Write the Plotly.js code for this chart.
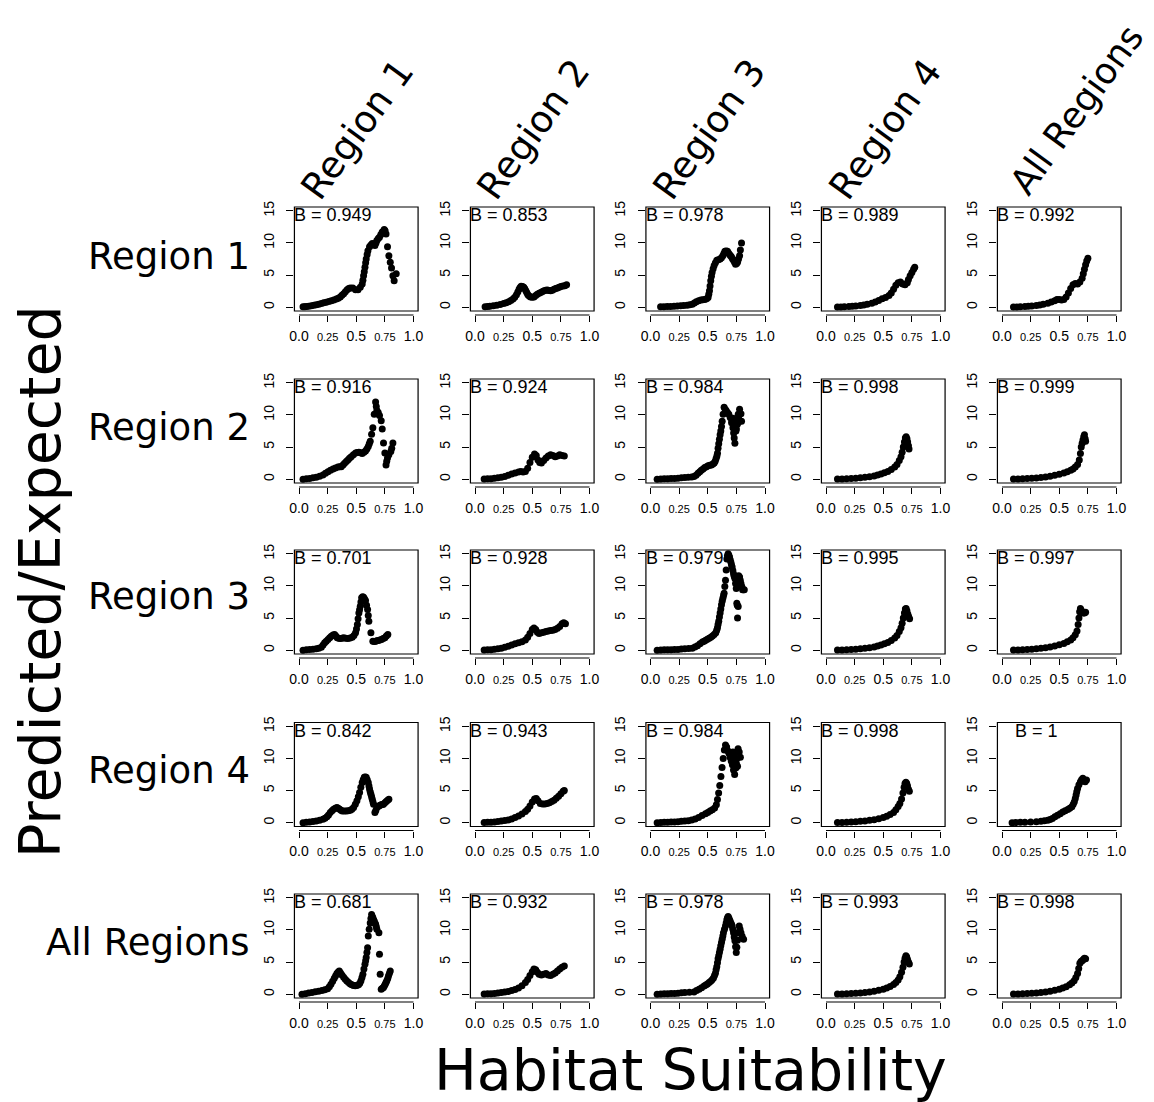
<!DOCTYPE html>
<html><head><meta charset="utf-8">
<script src="https://cdn.plot.ly/plotly-3.0.1.min.js"></script>
<style>html,body{margin:0;padding:0;background:#fff}</style>
</head><body><div id="chart" style="width:1154px;height:1102px"></div>
<script>
// ---------- labels ----------
const rowNames = ['Region 1','Region 2','Region 3','Region 4','All Regions'];
const colNames = ['Region 1','Region 2','Region 3','Region 4','All Regions'];
const bValues = [
  [0.949,0.853,0.978,0.989,0.992],
  [0.916,0.924,0.984,0.998,0.999],
  [0.701,0.928,0.979,0.995,0.997],
  [0.842,0.943,0.984,0.998,1],
  [0.681,0.932,0.978,0.993,0.998]
];
const xTickVals = [0,0.25,0.5,0.75,1];
const xTickText = ['0.0','0.25','0.5','0.75','1.0'];
const yTickVals = [0,5,10,15];
const yTickText = ['0','5','10','15'];
const xTitle = 'Habitat Suitability';
const yTitle = 'Predicted/Expected';

// ---------- data: [habitat suitability, predicted/expected] ----------
const r1c1 = [[0.035,0.05],[0.05,0.07],[0.064,0.1],[0.085,0.15],[0.108,0.2],[0.13,0.28],[0.151,0.37],[0.173,0.47],[0.195,0.57],[0.216,0.68],[0.238,0.78],[0.26,0.89],[0.282,1.0],[0.304,1.12],[0.326,1.25],[0.343,1.4],[0.36,1.6],[0.375,1.85],[0.39,2.1],[0.405,2.4],[0.42,2.7],[0.434,2.9],[0.448,3.0],[0.47,3.0],[0.494,2.7],[0.515,2.7],[0.535,3.1],[0.552,3.6],[0.558,4.2],[0.564,4.9],[0.57,5.5],[0.576,6.2],[0.582,6.9],[0.587,7.5],[0.595,8.2],[0.602,8.8],[0.616,9.4],[0.628,9.7],[0.64,9.9],[0.652,9.8],[0.663,9.6],[0.672,10.0],[0.68,10.4],[0.692,10.7],[0.703,10.9],[0.715,11.3],[0.727,11.7],[0.744,12.1],[0.752,11.9],[0.76,11.4],[0.773,9.4],[0.785,8.0],[0.797,7.0],[0.808,6.1],[0.82,4.9],[0.831,4.1],[0.849,5.2]];
const r1c2 = [[0.088,0.05],[0.11,0.1],[0.13,0.15],[0.16,0.22],[0.19,0.3],[0.22,0.43],[0.25,0.57],[0.272,0.7],[0.294,0.84],[0.313,1.02],[0.332,1.25],[0.347,1.55],[0.362,1.93],[0.374,2.35],[0.385,2.8],[0.394,3.05],[0.403,3.24],[0.415,3.2],[0.426,3.1],[0.435,2.85],[0.444,2.56],[0.453,2.25],[0.462,1.93],[0.473,1.75],[0.485,1.6],[0.5,1.55],[0.515,1.6],[0.53,1.8],[0.544,2.0],[0.56,2.15],[0.574,2.3],[0.59,2.45],[0.603,2.56],[0.618,2.65],[0.632,2.67],[0.646,2.6],[0.66,2.56],[0.675,2.65],[0.69,2.77],[0.705,2.9],[0.72,3.0],[0.735,3.1],[0.75,3.2],[0.768,3.3],[0.785,3.35],[0.80,3.5]];
const r1c3 = [[0.088,0.05],[0.117,0.07],[0.146,0.1],[0.175,0.12],[0.205,0.15],[0.234,0.17],[0.263,0.2],[0.29,0.25],[0.32,0.3],[0.343,0.38],[0.365,0.47],[0.383,0.65],[0.40,0.84],[0.42,0.98],[0.44,1.1],[0.457,1.15],[0.474,1.2],[0.49,1.3],[0.503,1.5],[0.509,2.0],[0.515,2.56],[0.52,3.3],[0.526,4.1],[0.532,4.8],[0.538,5.4],[0.547,6.0],[0.556,6.5],[0.567,6.9],[0.579,7.3],[0.593,7.4],[0.608,7.5],[0.62,7.7],[0.632,8.0],[0.641,8.35],[0.65,8.7],[0.661,8.75],[0.672,8.7],[0.681,8.45],[0.69,8.2],[0.699,8.0],[0.708,7.8],[0.716,7.55],[0.725,7.3],[0.734,7.0],[0.743,6.7],[0.752,6.8],[0.76,7.0],[0.769,7.5],[0.778,8.0],[0.785,8.9],[0.795,10.0]];
const r1c4 = [[0.1,0.02],[0.13,0.04],[0.16,0.06],[0.2,0.1],[0.23,0.13],[0.26,0.17],[0.3,0.25],[0.33,0.33],[0.36,0.45],[0.4,0.6],[0.43,0.8],[0.46,1.05],[0.49,1.3],[0.52,1.5],[0.55,1.8],[0.57,2.2],[0.59,2.8],[0.61,3.4],[0.63,3.8],[0.65,3.9],[0.67,3.6],[0.69,3.5],[0.71,3.8],[0.72,4.3],[0.735,4.9],[0.75,5.4],[0.765,5.9],[0.775,6.2]];
const r1c5 = [[0.1,0.02],[0.13,0.04],[0.16,0.06],[0.2,0.1],[0.23,0.13],[0.26,0.17],[0.3,0.25],[0.33,0.35],[0.36,0.45],[0.4,0.6],[0.43,0.8],[0.46,1.0],[0.48,1.2],[0.5,1.2],[0.52,1.1],[0.54,1.2],[0.56,1.6],[0.58,2.2],[0.6,2.9],[0.62,3.5],[0.64,3.7],[0.66,3.6],[0.68,3.9],[0.7,4.5],[0.71,5.2],[0.72,5.9],[0.73,6.6],[0.74,7.2],[0.75,7.6]];

const r2c1 = [[0.035,0],[0.064,0.05],[0.093,0.1],[0.122,0.2],[0.151,0.3],[0.18,0.45],[0.209,0.63],[0.231,0.9],[0.253,1.16],[0.275,1.38],[0.297,1.58],[0.318,1.75],[0.34,1.9],[0.355,1.92],[0.369,1.95],[0.384,2.2],[0.398,2.48],[0.413,2.75],[0.427,3.0],[0.441,3.25],[0.456,3.5],[0.475,3.8],[0.494,4.07],[0.508,4.15],[0.523,4.2],[0.538,4.1],[0.552,4.0],[0.567,4.2],[0.581,4.4],[0.593,4.7],[0.605,5.1],[0.614,5.5],[0.622,5.9],[0.634,7.0],[0.645,8.0],[0.657,10.1],[0.669,12.0],[0.675,11.3],[0.68,10.7],[0.692,10.4],[0.703,9.9],[0.718,9.1],[0.727,7.8],[0.738,5.65],[0.75,4.07],[0.76,2.2],[0.766,2.8],[0.773,3.3],[0.785,3.8],[0.802,4.3],[0.81,4.8],[0.82,5.65]];
const r2c2 = [[0.08,0.02],[0.11,0.05],[0.14,0.08],[0.17,0.13],[0.2,0.2],[0.23,0.3],[0.26,0.42],[0.29,0.6],[0.32,0.8],[0.35,0.95],[0.38,1.1],[0.4,1.2],[0.42,1.1],[0.44,1.2],[0.46,1.7],[0.48,2.6],[0.5,3.4],[0.52,3.9],[0.535,3.7],[0.55,3.0],[0.565,2.6],[0.58,2.5],[0.6,2.9],[0.62,3.3],[0.64,3.6],[0.66,3.8],[0.68,3.7],[0.7,3.5],[0.72,3.6],[0.74,3.8],[0.76,3.7],[0.78,3.6]];
const r2c3 = [[0.058,0],[0.09,0.02],[0.12,0.05],[0.15,0.07],[0.18,0.1],[0.21,0.12],[0.24,0.15],[0.27,0.2],[0.3,0.25],[0.33,0.3],[0.36,0.35],[0.38,0.4],[0.398,0.6],[0.415,0.9],[0.43,1.15],[0.444,1.4],[0.459,1.6],[0.474,1.8],[0.489,1.95],[0.503,2.1],[0.518,2.15],[0.532,2.2],[0.545,2.35],[0.556,2.5],[0.565,2.8],[0.573,3.2],[0.58,3.6],[0.585,4.05],[0.59,4.8],[0.596,5.5],[0.602,6.2],[0.608,6.9],[0.614,7.5],[0.62,8.2],[0.626,9.0],[0.634,10.1],[0.643,11.2],[0.652,10.9],[0.66,10.7],[0.672,10.4],[0.684,10.1],[0.696,9.6],[0.708,8.8],[0.72,8.0],[0.726,7.2],[0.731,6.4],[0.737,5.6],[0.746,7.5],[0.754,9.05],[0.766,10.1],[0.778,10.9],[0.784,9.05],[0.71,9.2],[0.72,9.5],[0.73,8.6],[0.74,8.4],[0.75,7.8],[0.76,8.6],[0.77,9.4],[0.79,10.2],[0.795,9.0]];
const r2c4 = [[0.1,0.02],[0.14,0.04],[0.18,0.06],[0.22,0.1],[0.26,0.15],[0.3,0.2],[0.34,0.28],[0.38,0.38],[0.42,0.5],[0.45,0.65],[0.48,0.8],[0.51,1.0],[0.54,1.2],[0.57,1.5],[0.6,1.9],[0.62,2.3],[0.64,2.9],[0.655,3.5],[0.665,4.2],[0.675,5.0],[0.685,5.8],[0.693,6.4],[0.7,6.6],[0.707,6.3],[0.713,5.8],[0.72,5.2],[0.725,4.7]];
const r2c5 = [[0.1,0.02],[0.14,0.04],[0.18,0.06],[0.22,0.09],[0.26,0.13],[0.3,0.18],[0.34,0.25],[0.38,0.33],[0.42,0.45],[0.46,0.6],[0.5,0.75],[0.54,0.95],[0.57,1.15],[0.6,1.4],[0.62,1.6],[0.64,1.9],[0.66,2.3],[0.675,3.0],[0.685,4.0],[0.692,5.0],[0.7,5.6],[0.707,6.1],[0.714,6.6],[0.72,6.9],[0.726,6.3],[0.73,5.9]];

const r3c1 = [[0.035,0],[0.064,0.05],[0.093,0.1],[0.122,0.15],[0.151,0.2],[0.173,0.3],[0.195,0.47],[0.21,0.8],[0.224,1.14],[0.238,1.4],[0.253,1.66],[0.268,1.92],[0.282,2.18],[0.297,2.35],[0.311,2.44],[0.322,2.2],[0.334,1.92],[0.347,1.85],[0.36,1.82],[0.375,1.85],[0.39,1.92],[0.408,1.87],[0.427,1.82],[0.446,1.9],[0.465,2.02],[0.48,2.3],[0.494,2.7],[0.502,3.3],[0.51,4.0],[0.516,4.9],[0.523,5.8],[0.529,6.3],[0.535,6.85],[0.541,7.5],[0.547,8.15],[0.556,8.3],[0.564,8.25],[0.572,8.0],[0.581,7.73],[0.59,7.0],[0.599,6.33],[0.605,5.4],[0.61,4.5],[0.628,2.7],[0.645,1.4],[0.657,1.35],[0.669,1.4],[0.68,1.45],[0.692,1.5],[0.706,1.58],[0.72,1.66],[0.735,1.8],[0.75,1.92],[0.763,2.2],[0.776,2.44]];
const r3c2 = [[0.08,0.02],[0.11,0.05],[0.14,0.08],[0.17,0.13],[0.2,0.2],[0.23,0.3],[0.26,0.45],[0.29,0.62],[0.32,0.8],[0.35,1.0],[0.38,1.15],[0.41,1.3],[0.44,1.6],[0.46,2.0],[0.48,2.6],[0.5,3.2],[0.515,3.45],[0.53,3.2],[0.545,2.8],[0.56,2.6],[0.58,2.7],[0.6,2.8],[0.62,2.9],[0.64,3.0],[0.66,3.05],[0.68,3.1],[0.7,3.2],[0.72,3.4],[0.74,3.7],[0.76,4.1],[0.775,4.25],[0.79,4.1]];
const r3c3 = [[0.058,0],[0.09,0.02],[0.12,0.05],[0.15,0.06],[0.18,0.08],[0.21,0.1],[0.24,0.12],[0.27,0.16],[0.3,0.2],[0.333,0.25],[0.365,0.3],[0.388,0.5],[0.41,0.7],[0.432,1.0],[0.453,1.28],[0.468,1.4],[0.482,1.54],[0.497,1.7],[0.512,1.84],[0.527,2.0],[0.541,2.2],[0.556,2.45],[0.57,2.7],[0.578,3.1],[0.585,3.5],[0.59,4.0],[0.596,4.5],[0.602,5.15],[0.608,5.8],[0.614,6.4],[0.62,7.07],[0.626,7.6],[0.632,8.1],[0.638,8.5],[0.643,8.86],[0.649,9.9],[0.655,10.9],[0.661,12.5],[0.667,14.2],[0.672,14.7],[0.678,15.0],[0.684,14.8],[0.69,14.5],[0.696,14.1],[0.702,13.7],[0.707,13.3],[0.713,12.95],[0.719,12.4],[0.725,11.9],[0.731,11.5],[0.737,11.16],[0.743,10.4],[0.749,9.6],[0.754,7.3],[0.76,5.0],[0.766,6.8],[0.772,10.0],[0.778,11.4],[0.784,10.9],[0.79,10.4],[0.797,9.9],[0.804,9.4],[0.812,9.4],[0.819,9.4],[0.77,11.6],[0.758,7.0]];
const r3c4 = [[0.1,0.02],[0.14,0.04],[0.18,0.06],[0.22,0.1],[0.26,0.15],[0.3,0.2],[0.34,0.28],[0.38,0.38],[0.42,0.5],[0.45,0.65],[0.48,0.8],[0.51,1.0],[0.54,1.2],[0.57,1.5],[0.6,1.9],[0.62,2.3],[0.64,2.9],[0.655,3.5],[0.665,4.2],[0.675,5.0],[0.685,5.8],[0.693,6.4],[0.7,6.5],[0.707,6.1],[0.715,5.6],[0.722,5.2],[0.73,4.9]];
const r3c5 = [[0.1,0.02],[0.14,0.04],[0.18,0.06],[0.22,0.1],[0.26,0.14],[0.3,0.2],[0.34,0.28],[0.38,0.38],[0.42,0.5],[0.46,0.65],[0.5,0.85],[0.54,1.05],[0.57,1.3],[0.6,1.6],[0.62,1.95],[0.64,2.4],[0.655,3.0],[0.665,4.0],[0.672,5.0],[0.678,6.0],[0.685,6.5],[0.692,6.2],[0.7,6.0],[0.71,5.8],[0.72,5.8],[0.73,5.9]];

const r4c1 = [[0.035,0],[0.064,0.05],[0.093,0.1],[0.122,0.18],[0.151,0.26],[0.18,0.38],[0.209,0.52],[0.227,0.7],[0.244,0.9],[0.258,1.2],[0.273,1.57],[0.288,1.85],[0.302,2.1],[0.317,2.25],[0.331,2.35],[0.343,2.25],[0.355,2.1],[0.367,1.95],[0.378,1.83],[0.396,1.83],[0.413,1.83],[0.43,1.87],[0.448,1.93],[0.462,2.1],[0.477,2.35],[0.492,2.85],[0.506,3.4],[0.518,4.05],[0.529,4.7],[0.54,5.5],[0.552,6.27],[0.561,6.7],[0.57,7.06],[0.578,7.1],[0.587,7.06],[0.596,6.7],[0.605,6.27],[0.611,5.7],[0.616,5.23],[0.622,4.8],[0.628,4.44],[0.634,4.05],[0.64,3.66],[0.646,3.2],[0.651,2.87],[0.663,1.57],[0.671,1.9],[0.68,2.35],[0.689,2.5],[0.698,2.6],[0.708,2.7],[0.718,2.77],[0.728,2.82],[0.738,2.87],[0.75,3.1],[0.762,3.3],[0.774,3.5],[0.785,3.66]];
const r4c2 = [[0.08,0.02],[0.11,0.05],[0.14,0.08],[0.17,0.12],[0.2,0.18],[0.23,0.25],[0.26,0.33],[0.29,0.43],[0.32,0.58],[0.35,0.8],[0.38,1.05],[0.41,1.35],[0.44,1.75],[0.46,2.1],[0.48,2.6],[0.5,3.2],[0.52,3.7],[0.535,3.75],[0.55,3.4],[0.57,3.0],[0.59,2.9],[0.61,2.9],[0.63,3.0],[0.65,3.1],[0.67,3.3],[0.69,3.5],[0.71,3.8],[0.73,4.1],[0.75,4.5],[0.77,4.9],[0.78,5.0]];
const r4c3 = [[0.058,0],[0.09,0.02],[0.12,0.05],[0.15,0.07],[0.18,0.1],[0.21,0.12],[0.24,0.15],[0.27,0.2],[0.3,0.25],[0.33,0.3],[0.36,0.4],[0.39,0.55],[0.42,0.8],[0.45,1.1],[0.48,1.4],[0.5,1.6],[0.52,1.8],[0.54,2.0],[0.56,2.3],[0.575,2.8],[0.585,3.6],[0.595,4.6],[0.605,5.8],[0.615,7.2],[0.625,8.6],[0.635,10.0],[0.645,11.3],[0.655,12.1],[0.665,11.8],[0.675,11.2],[0.685,10.8],[0.695,10.2],[0.705,9.6],[0.715,9.0],[0.725,8.2],[0.735,7.5],[0.745,8.5],[0.755,10.0],[0.765,11.5],[0.775,11.0],[0.785,10.2],[0.72,11.0],[0.73,10.5],[0.74,9.6],[0.75,9.2],[0.76,8.8]];
const r4c4 = [[0.1,0.02],[0.14,0.04],[0.18,0.06],[0.22,0.1],[0.26,0.14],[0.3,0.2],[0.34,0.27],[0.38,0.36],[0.42,0.47],[0.46,0.62],[0.5,0.8],[0.53,1.0],[0.56,1.25],[0.59,1.6],[0.61,2.0],[0.63,2.5],[0.645,3.0],[0.66,3.7],[0.672,4.6],[0.682,5.5],[0.69,6.1],[0.698,6.3],[0.705,6.1],[0.712,5.7],[0.72,5.2],[0.728,4.9]];
const r4c5 = [[0.088,0],[0.12,0.02],[0.16,0.05],[0.2,0.07],[0.25,0.1],[0.3,0.15],[0.34,0.2],[0.37,0.28],[0.4,0.37],[0.42,0.5],[0.44,0.63],[0.462,0.9],[0.485,1.15],[0.508,1.4],[0.53,1.67],[0.552,1.85],[0.574,2.04],[0.592,2.25],[0.61,2.46],[0.622,2.85],[0.632,3.24],[0.64,3.75],[0.647,4.29],[0.653,4.8],[0.66,5.33],[0.672,5.9],[0.685,6.38],[0.695,6.7],[0.706,6.9],[0.716,6.6],[0.726,6.38],[0.738,6.64]];

const r5c1 = [[0.026,0],[0.055,0.08],[0.084,0.16],[0.113,0.26],[0.142,0.36],[0.171,0.46],[0.2,0.57],[0.225,0.7],[0.25,0.83],[0.265,1.15],[0.279,1.55],[0.294,2.0],[0.308,2.48],[0.32,2.85],[0.331,3.2],[0.342,3.45],[0.352,3.62],[0.363,3.3],[0.375,3.0],[0.39,2.65],[0.404,2.33],[0.418,2.05],[0.433,1.81],[0.448,1.6],[0.462,1.45],[0.476,1.35],[0.491,1.3],[0.505,1.35],[0.52,1.45],[0.531,1.7],[0.541,2.07],[0.55,2.6],[0.558,3.1],[0.567,3.9],[0.576,4.66],[0.582,5.2],[0.587,5.7],[0.593,6.5],[0.599,7.24],[0.605,9.05],[0.613,10.1],[0.622,11.1],[0.628,11.8],[0.634,12.4],[0.64,12.1],[0.645,11.9],[0.651,11.6],[0.657,11.4],[0.663,11.1],[0.669,10.9],[0.675,10.5],[0.68,10.1],[0.698,9.57],[0.703,6.2],[0.709,3.1],[0.718,0.78],[0.728,0.9],[0.738,1.03],[0.746,1.3],[0.753,1.55],[0.76,1.8],[0.767,2.07],[0.775,2.45],[0.782,2.85],[0.79,3.25],[0.797,3.62]];
const r5c2 = [[0.08,0.02],[0.11,0.05],[0.14,0.08],[0.17,0.12],[0.2,0.17],[0.23,0.24],[0.26,0.32],[0.29,0.42],[0.32,0.55],[0.35,0.72],[0.38,0.95],[0.41,1.3],[0.44,1.8],[0.46,2.3],[0.48,2.9],[0.5,3.5],[0.515,3.9],[0.53,3.8],[0.545,3.4],[0.56,3.1],[0.58,3.0],[0.6,3.1],[0.62,3.2],[0.64,3.0],[0.66,2.9],[0.68,3.1],[0.7,3.3],[0.72,3.6],[0.74,3.9],[0.76,4.2],[0.78,4.4]];
const r5c3 = [[0.058,0],[0.09,0.02],[0.12,0.05],[0.15,0.07],[0.18,0.1],[0.21,0.12],[0.24,0.15],[0.27,0.2],[0.3,0.25],[0.34,0.3],[0.38,0.35],[0.402,0.55],[0.424,0.75],[0.446,1.0],[0.468,1.26],[0.483,1.43],[0.497,1.6],[0.512,1.8],[0.526,2.0],[0.538,2.25],[0.55,2.5],[0.559,2.9],[0.567,3.27],[0.573,3.8],[0.579,4.28],[0.585,4.9],[0.59,5.5],[0.596,6.0],[0.602,6.5],[0.608,7.0],[0.614,7.55],[0.62,8.05],[0.626,8.55],[0.632,9.05],[0.637,9.56],[0.646,10.1],[0.655,10.6],[0.661,11.1],[0.667,11.6],[0.672,11.85],[0.678,12.1],[0.684,11.85],[0.69,11.6],[0.696,11.35],[0.702,11.1],[0.708,10.85],[0.713,10.6],[0.719,10.1],[0.725,9.56],[0.731,8.9],[0.737,8.3],[0.743,7.4],[0.749,6.5],[0.754,7.3],[0.76,8.4],[0.766,9.56],[0.775,10.6],[0.782,10.1],[0.79,9.56],[0.8,9.0],[0.813,8.55]];
const r5c4 = [[0.1,0.02],[0.14,0.04],[0.18,0.06],[0.22,0.09],[0.26,0.13],[0.3,0.18],[0.34,0.25],[0.38,0.34],[0.42,0.45],[0.46,0.6],[0.5,0.78],[0.53,0.95],[0.56,1.2],[0.59,1.5],[0.61,1.8],[0.63,2.2],[0.645,2.7],[0.66,3.4],[0.672,4.2],[0.682,5.0],[0.69,5.6],[0.698,6.0],[0.705,5.8],[0.712,5.4],[0.72,5.0],[0.728,4.7]];
const r5c5 = [[0.1,0.02],[0.14,0.04],[0.18,0.06],[0.22,0.09],[0.26,0.13],[0.3,0.18],[0.34,0.25],[0.38,0.34],[0.42,0.45],[0.46,0.6],[0.5,0.78],[0.53,0.95],[0.56,1.15],[0.59,1.45],[0.61,1.75],[0.63,2.1],[0.645,2.6],[0.66,3.2],[0.67,4.0],[0.68,4.8],[0.69,5.1],[0.7,5.2],[0.71,5.4],[0.72,5.6],[0.73,5.5]];

const panels = [
  [r1c1,r1c2,r1c3,r1c4,r1c5],
  [r2c1,r2c2,r2c3,r2c4,r2c5],
  [r3c1,r3c2,r3c3,r3c4,r3c5],
  [r4c1,r4c2,r4c3,r4c4,r4c5],
  [r5c1,r5c2,r5c3,r5c4,r5c5]
];

// ---------- layout geometry (pixels) ----------
const W = 1154, H = 1102;
const colX0 = [299, 475, 650.5, 826, 1002];   // pixel of x = 0
const rowTop = [207, 379, 550, 722.5, 894];   // top of each panel box
const PXU = 114.5;                             // pixels per x unit
const BOXH = 104;
const AXGAP = 4;
const XR = [-0.04, 1.04], YR = [-0.6, 15.6];

const tickFont = 'Liberation Sans, Arial, Helvetica, sans-serif';
const bigFont = 'DejaVu Sans, Verdana, sans-serif';

const xText = xTickText.map((t,i)=> i%2===1 ? '<span style="font-size:11px">'+t+'</span>' : t);

const data = [];
const layout = {
  width: W, height: H, margin: {l:0,r:0,t:0,b:0},
  paper_bgcolor: 'white', plot_bgcolor: 'white', showlegend: false,
  shapes: [], annotations: []
};

for (let r=0;r<5;r++){
  for (let c=0;c<5;c++){
    const n = r*5+c+1;
    const sfx = n===1 ? '' : String(n);
    const xr = 'x'+sfx, yr = 'y'+sfx;
    const left = colX0[c] + XR[0]*PXU, right = colX0[c] + XR[1]*PXU;
    const top = rowTop[r], bottom = top + BOXH;
    const axPos = 1 - (bottom + AXGAP)/H;
    const pts = panels[r][c];
    data.push({
      type:'scatter', mode:'markers', xaxis:xr, yaxis:yr,
      x: pts.map(p=>p[0]), y: pts.map(p=>p[1]),
      marker:{color:'black', size:7}, hoverinfo:'skip'
    });
    layout['xaxis'+sfx] = {
      domain:[left/W, right/W], range:XR, anchor:'free', position:axPos,
      tickmode:'array', tickvals:xTickVals, ticktext:xText,
      ticks:'outside', ticklen:6, tickwidth:1, tickcolor:'black',
      ticklabelstandoff:2,
      showline:false, showgrid:false, zeroline:false, fixedrange:true,
      tickfont:{family:tickFont, size:14, color:'black'}
    };
    layout['yaxis'+sfx] = {
      domain:[1-bottom/H, 1-top/H], range:YR, anchor:xr,
      tickmode:'array', tickvals:yTickVals, ticktext:yTickText,
      ticks:'outside', ticklen:7, tickwidth:1, tickcolor:'black', tickangle:-90,
      ticklabelstandoff:7,
      showline:false, showgrid:false, zeroline:false, fixedrange:true,
      tickfont:{family:tickFont, size:14, color:'black'}
    };
    layout.shapes.push({type:'rect', xref:xr+' domain', yref:yr+' domain', x0:0,x1:1,y0:0,y1:1,
      line:{color:'black', width:1.2}, layer:'above'});
    layout.shapes.push({type:'line', xref:xr, yref:'paper', x0:xTickVals[0], x1:xTickVals[xTickVals.length-1],
      y0:axPos, y1:axPos, line:{color:'black', width:1.2}});
    layout.annotations.push({xref:xr, yref:yr, x:0.3, y:14.35, xanchor:'center', yanchor:'middle',
      text:'B = '+bValues[r][c], showarrow:false,
      font:{family:tickFont, size:18, color:'black'}});
  }
}

// row labels
const rowCenters = [256, 427, 596, 770, 942];
rowNames.forEach((t,r)=>{
  layout.annotations.push({xref:'paper', yref:'paper', x:252/W, y:1-rowCenters[r]/H,
    xanchor:'right', yanchor:'middle', text:t, showarrow:false,
    font:{family:bigFont, size:37, color:'black'}});
});
// column labels (rotated)
const colCenters = [[357,129],[533,129],[709,129],[885,129],[1077,110]];
colNames.forEach((t,c)=>{
  layout.annotations.push({xref:'paper', yref:'paper', x:colCenters[c][0]/W, y:1-colCenters[c][1]/H,
    xanchor:'center', yanchor:'middle', text:t, showarrow:false, textangle:-54,
    font:{family:bigFont, size:c===4 ? 36 : 37, color:'black'}});
});
// axis titles
layout.annotations.push({xref:'paper', yref:'paper', x:40/W, y:1-582/H, xanchor:'center', yanchor:'middle',
  text:yTitle, textangle:-90, showarrow:false, font:{family:bigFont, size:57, color:'black'}});
layout.annotations.push({xref:'paper', yref:'paper', x:690/W, y:1-1070/H, xanchor:'center', yanchor:'middle',
  text:xTitle, showarrow:false, font:{family:bigFont, size:57, color:'black'}});

Plotly.newPlot('chart', data, layout, {displayModeBar:false, staticPlot:true});
</script>
</body></html>
